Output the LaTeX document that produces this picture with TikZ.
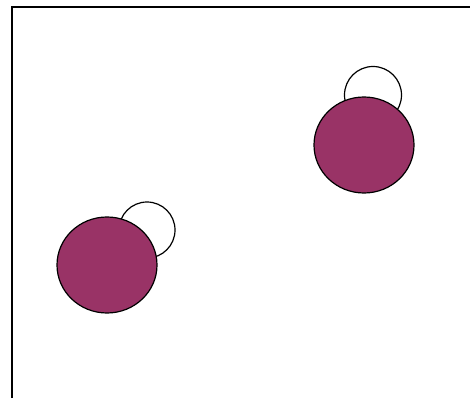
\documentclass[tikz,border=0pt]{standalone}
\usepackage{xcolor}
\usepackage{tikz}
\usetikzlibrary{shapes.geometric}
\definecolor{plum}{RGB}{153,51,102}

\begin{document}
\begin{tikzpicture}[x=1pt,y=-1pt,
    blob/.style={ellipse, draw=black, fill=plum, line width=1.2pt,
      minimum width=100pt, minimum height=96pt, inner sep=0pt},
    loopring/.style={draw=black, line width=1.2pt, fill=white}]
  \useasboundingbox (0,0) rectangle (470,398);

  % frame: top and left edge
  \draw[line width=1.6pt] (12,398) -- (12,7) -- (470,7);

  % rings sitting behind the blobs
  \draw[loopring] (373,95) circle (28.5);
  \draw[loopring] (147,230) circle (28);

  % blobs
  \node[blob] (upper) at (364,145) {};
  \node[blob] (lower) at (107,265) {};
\end{tikzpicture}
\end{document}
